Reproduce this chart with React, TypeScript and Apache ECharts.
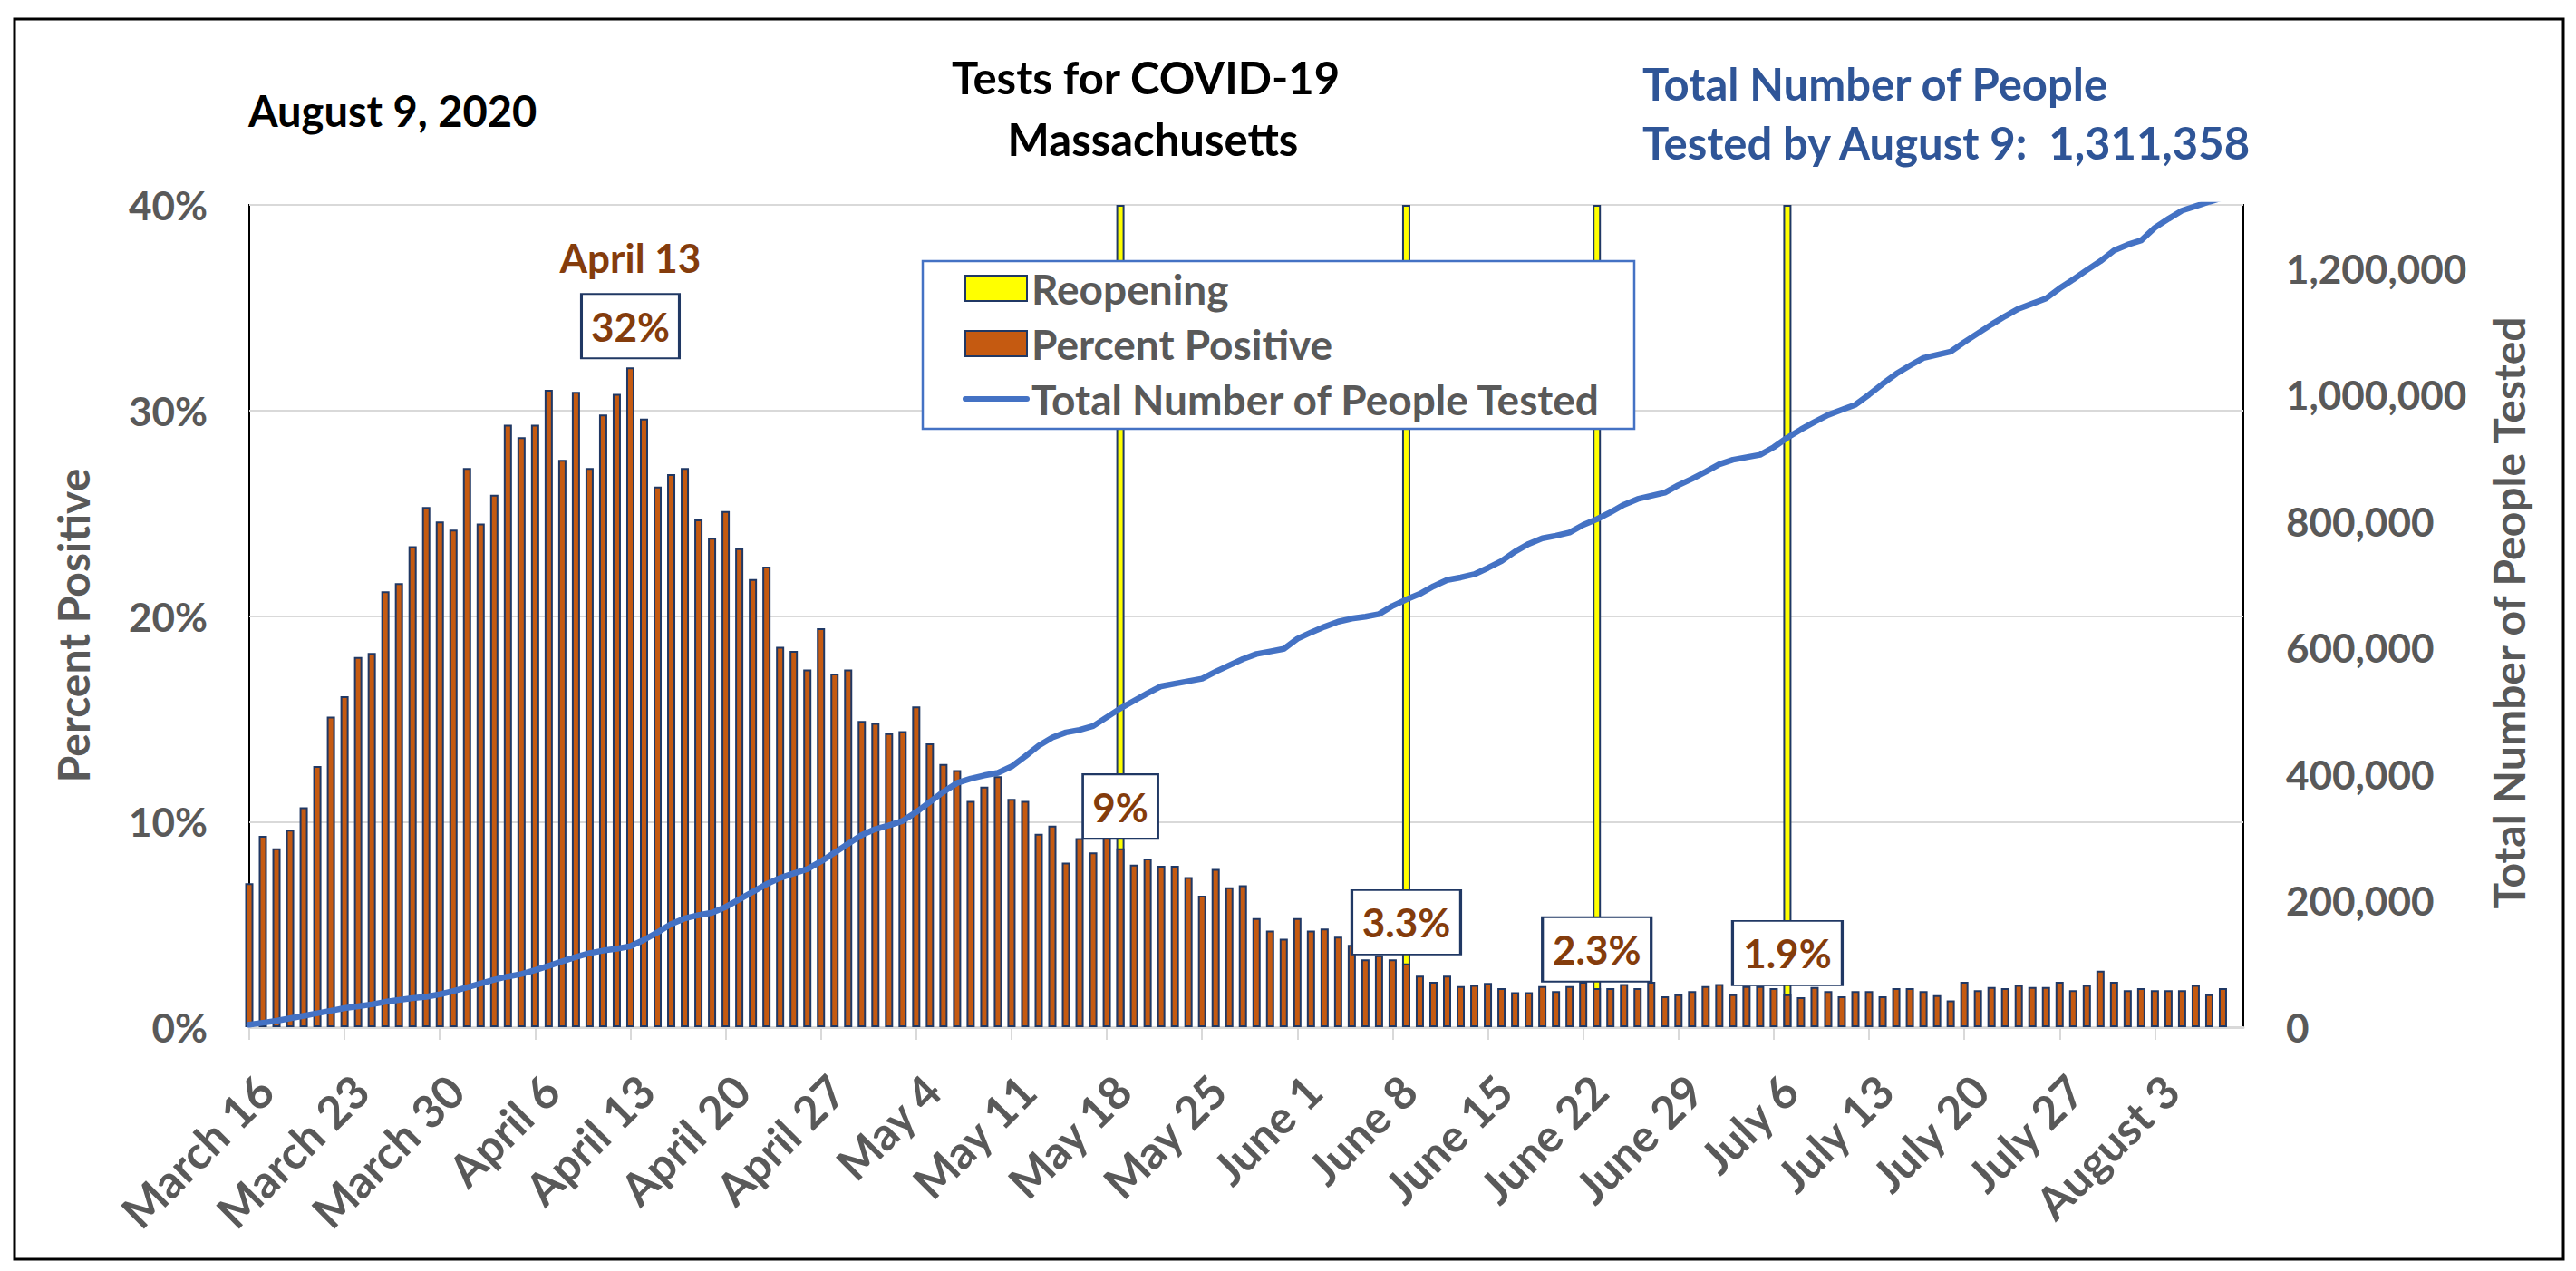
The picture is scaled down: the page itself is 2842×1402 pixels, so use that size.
import React, { useEffect, useRef } from "react";
import * as echarts from "echarts";

// Days counted from March 16, 2020 (index 0) — one bar per day, through August 8
const xTickLabels = [
  "March 16", "March 23", "March 30", "April 6", "April 13", "April 20", "April 27",
  "May 4", "May 11", "May 18", "May 25", "June 1", "June 8", "June 15", "June 22",
  "June 29", "July 6", "July 13", "July 20", "July 27", "August 3",
];

// Percent positive (%), daily
const percentPositive = [
  7.0, 9.3, 8.7, 9.6, 10.7, 12.7, 15.1, 16.1, 18.0, 18.2,
  21.2, 21.6, 23.4, 25.3, 24.6, 24.2, 27.2, 24.5, 25.9, 29.3,
  28.7, 29.3, 31.0, 27.6, 30.9, 27.2, 29.8, 30.8, 32.1, 29.6,
  26.3, 26.9, 27.2, 24.7, 23.8, 25.1, 23.3, 21.8, 22.4, 18.5,
  18.3, 17.4, 19.4, 17.2, 17.4, 14.9, 14.8, 14.3, 14.4, 15.6,
  13.8, 12.8, 12.5, 11.0, 11.7, 12.2, 11.1, 11.0, 9.4, 9.8,
  8.0, 9.2, 8.5, 9.3, 8.7, 7.9, 8.2, 7.85, 7.85, 7.3,
  6.4, 7.7, 6.8, 6.9, 5.3, 4.7, 4.3, 5.3, 4.7, 4.8,
  4.4, 4.0, 3.3, 3.5, 3.3, 3.1, 2.5, 2.2, 2.5, 2.0,
  2.05, 2.15, 1.9, 1.7, 1.7, 2.0, 1.75, 2.0, 2.2, 1.9,
  1.9, 2.1, 1.9, 2.2, 1.5, 1.6, 1.75, 2.0, 2.1, 1.6,
  2.0, 2.0, 1.9, 1.6, 1.45, 1.95, 1.75, 1.5, 1.75, 1.75,
  1.5, 1.9, 1.9, 1.75, 1.55, 1.3, 2.2, 1.8, 1.95, 1.9,
  2.05, 1.95, 1.95, 2.2, 1.8, 2.05, 2.75, 2.2, 1.8, 1.9,
  1.8, 1.8, 1.8, 2.05, 1.6, 1.9,
];

// Cumulative total number of people tested, daily
const totalTested = [
  4000, 7000, 10000, 14000, 18000, 22000, 26000, 30000, 33000, 36000,
  40000, 43000, 46000, 48000, 52000, 57000, 63000, 69000, 75000, 80000,
  84000, 90000, 97000, 104000, 111000, 117000, 121000, 124000, 128000, 138000,
  150000, 163000, 172000, 177000, 181000, 190000, 202000, 214000, 226000, 236000,
  243000, 250000, 262000, 276000, 290000, 304000, 313000, 319000, 326000, 340000,
  356000, 372000, 386000, 393000, 398000, 402000, 412000, 428000, 445000, 458000,
  466000, 470000, 476000, 490000, 504000, 516000, 528000, 539000, 543000, 547000,
  551000, 562000, 572000, 582000, 590000, 594000, 598000, 614000, 624000, 633000,
  641000, 646000, 649000, 653000, 666000, 676000, 685000, 697000, 707000, 711000,
  716000, 726000, 737000, 752000, 764000, 773000, 777000, 782000, 794000, 803000,
  814000, 826000, 835000, 840000, 845000, 857000, 867000, 878000, 890000, 897000,
  901000, 905000, 917000, 932000, 945000, 957000, 968000, 976000, 984000, 1000000,
  1017000, 1033000, 1046000, 1058000, 1063000, 1068000, 1083000, 1097000, 1111000, 1124000,
  1136000, 1144000, 1152000, 1168000, 1182000, 1197000, 1211000, 1228000, 1237000, 1244000,
  1264000, 1278000, 1291000, 1298000, 1305000, 1311358,
];

// Reopening markers (day index from March 16) drawn as full-height bars
const reopeningDays = [64, 85, 99, 113];
const reopeningLevel = 40;

// Callout annotations: day index and text
const calloutDays = [28, 64, 85, 99, 113];
const calloutTexts = ["32%", "9%", "3.3%", "2.3%", "1.9%"];

const FONT = "Lato";
const GRAY = "#595959";
const NAVY = "#203864";
const BROWN = "#843C0C";
const BLUE_TEXT = "#2F5597";

export default function App() {
  const ref = useRef<HTMLDivElement>(null);

  useEffect(() => {
    document.body.style.margin = "0";
    document.body.style.overflow = "hidden";
    const chart = echarts.init(ref.current as HTMLDivElement, null, { renderer: "svg" });

    const barData = percentPositive.map((v, i) => [i, v]);
    const lineData = totalTested.map((v, i) => [i, v]);
    const reopenData = reopeningDays.map((d) => [d, reopeningLevel]);

    const calloutY = [34.1, 10.73, 5.1, 3.78, 3.6];
    const calloutW = [108, 83, 120, 120, 121];

    const markData: any[] = calloutDays.map((d, k) => ({
      coord: [d, calloutY[k]],
      symbol: "rect",
      symbolSize: [calloutW[k], 71],
      itemStyle: { color: "#ffffff", borderColor: NAVY, borderWidth: 2.5 },
      label: {
        show: true,
        position: "inside",
        formatter: calloutTexts[k],
        color: BROWN,
        fontFamily: FONT,
        fontWeight: "bold",
        fontSize: 44,
      },
    }));
    markData.push({
      coord: [28, 37.45],
      symbol: "rect",
      symbolSize: [1, 1],
      itemStyle: { color: "rgba(0,0,0,0)", borderWidth: 0 },
      label: {
        show: true,
        position: "inside",
        formatter: "April 13",
        color: BROWN,
        fontFamily: FONT,
        fontWeight: "bold",
        fontSize: 44,
      },
    });

    const txt = (text: string, x: number, y: number, size: number, fill: string, align: string, rotation = 0) => ({
      type: "text",
      x,
      y,
      rotation,
      z: 10,
      style: {
        text,
        font: `bold ${size}px ${FONT}`,
        fill,
        textAlign: align,
        textVerticalAlign: "middle",
      },
    });

    const option: any = {
      animation: false,
      backgroundColor: "#ffffff",
      grid: {
        left: 275,
        top: 226,
        width: 2200,
        height: 907,
        show: true,
        borderColor: "#000000",
        borderWidth: 2,
        backgroundColor: "rgba(0,0,0,0)",
      },
      legend: {
        orient: "vertical",
        left: 1062,
        top: 295,
        padding: 0,
        itemWidth: 68,
        itemHeight: 28,
        itemGap: 15,
        selectedMode: false,
        z: 20,
        textStyle: {
          fontFamily: FONT,
          fontWeight: "bold",
          fontSize: 46,
          lineHeight: 46,
          color: GRAY,
        },
        data: [
          { name: "Reopening", icon: "rect" },
          { name: "Percent Positive", icon: "rect" },
          {
            name: "Total Number of People Tested",
            itemStyle: { opacity: 0 },
            lineStyle: { width: 6, color: "#4472C4", cap: "round" },
          },
        ],
      },
      xAxis: {
        type: "value",
        min: 0,
        max: 146.5,
        interval: 7,
        splitLine: { show: false },
        axisLine: { show: true, lineStyle: { color: "#D9D9D9", width: 3 } },
        axisTick: { show: true, length: 14, lineStyle: { color: "#D9D9D9", width: 2 } },
        axisLabel: {
          rotate: 45,
          verticalAlign: "top",
          margin: 44,
          showMaxLabel: false,
          color: GRAY,
          fontFamily: FONT,
          fontWeight: "bold",
          fontSize: 50,
          formatter: (v: number) => {
            const k = v / 7;
            return Number.isInteger(k) && xTickLabels[k] ? xTickLabels[k] : "";
          },
        },
      },
      yAxis: [
        {
          type: "value",
          min: 0,
          max: 40,
          interval: 10,
          axisLine: { show: false },
          axisTick: { show: false },
          splitLine: { show: true, lineStyle: { color: "#D9D9D9", width: 2 } },
          axisLabel: {
            margin: 46,
            color: GRAY,
            fontFamily: FONT,
            fontWeight: "bold",
            fontSize: 44,
            formatter: "{value}%",
          },
        },
        {
          type: "value",
          min: 0,
          max: 1300000,
          interval: 200000,
          position: "right",
          axisLine: { show: false },
          axisTick: { show: false },
          splitLine: { show: false },
          axisLabel: {
            margin: 47,
            showMaxLabel: false,
            color: GRAY,
            fontFamily: FONT,
            fontWeight: "bold",
            fontSize: 44,
            formatter: (v: number) => v.toLocaleString("en-US"),
          },
        },
      ],
      series: [
        {
          name: "Reopening",
          type: "bar",
          yAxisIndex: 0,
          barWidth: 9,
          barGap: "-100%",
          itemStyle: { color: "#FFFF00", borderColor: NAVY, borderWidth: 2 },
          data: reopenData,
        },
        {
          name: "Percent Positive",
          type: "bar",
          yAxisIndex: 0,
          barWidth: 9,
          barGap: "-100%",
          itemStyle: { color: "#C55A11", borderColor: NAVY, borderWidth: 2 },
          data: barData,
          markPoint: { z: 5, data: markData },
        },
        {
          name: "Total Number of People Tested",
          type: "line",
          yAxisIndex: 1,
          symbol: "none",
          showSymbol: false,
          lineStyle: { color: "#4472C4", width: 6.5, cap: "round", join: "round" },
          itemStyle: { color: "#4472C4" },
          data: lineData,
        },
      ],
      graphic: [
        {
          type: "rect",
          z: 10,
          shape: { x: 1018, y: 288, width: 785, height: 185 },
          style: { fill: "#ffffff", stroke: "#4472C4", lineWidth: 2.5 },
        },
        {
          type: "rect",
          z: 10,
          shape: { x: 16, y: 21, width: 2812, height: 1368 },
          style: { fill: "none", stroke: "#000000", lineWidth: 3 },
        },
        txt("August 9, 2020", 274, 122, 47, "#000000", "left"),
        txt("Tests for COVID-19", 1264, 85, 49, "#000000", "center"),
        txt("Massachusetts", 1272, 153, 49, "#000000", "center"),
        txt("Total Number of People", 1812, 92, 49, BLUE_TEXT, "left"),
        txt("Tested by August 9:  1,311,358", 1812, 157, 49, BLUE_TEXT, "left"),
        txt("Percent Positive", 80, 690, 48, GRAY, "center", Math.PI / 2),
        txt("Total Number of People Tested", 2767, 676, 48, GRAY, "center", Math.PI / 2),
      ],
    };

    chart.setOption(option);
    return () => chart.dispose();
  }, []);

  return (
    <div
      ref={ref}
      style={{ position: "fixed", left: 0, top: 0, width: 2842, height: 1402 }}
    />
  );
}
